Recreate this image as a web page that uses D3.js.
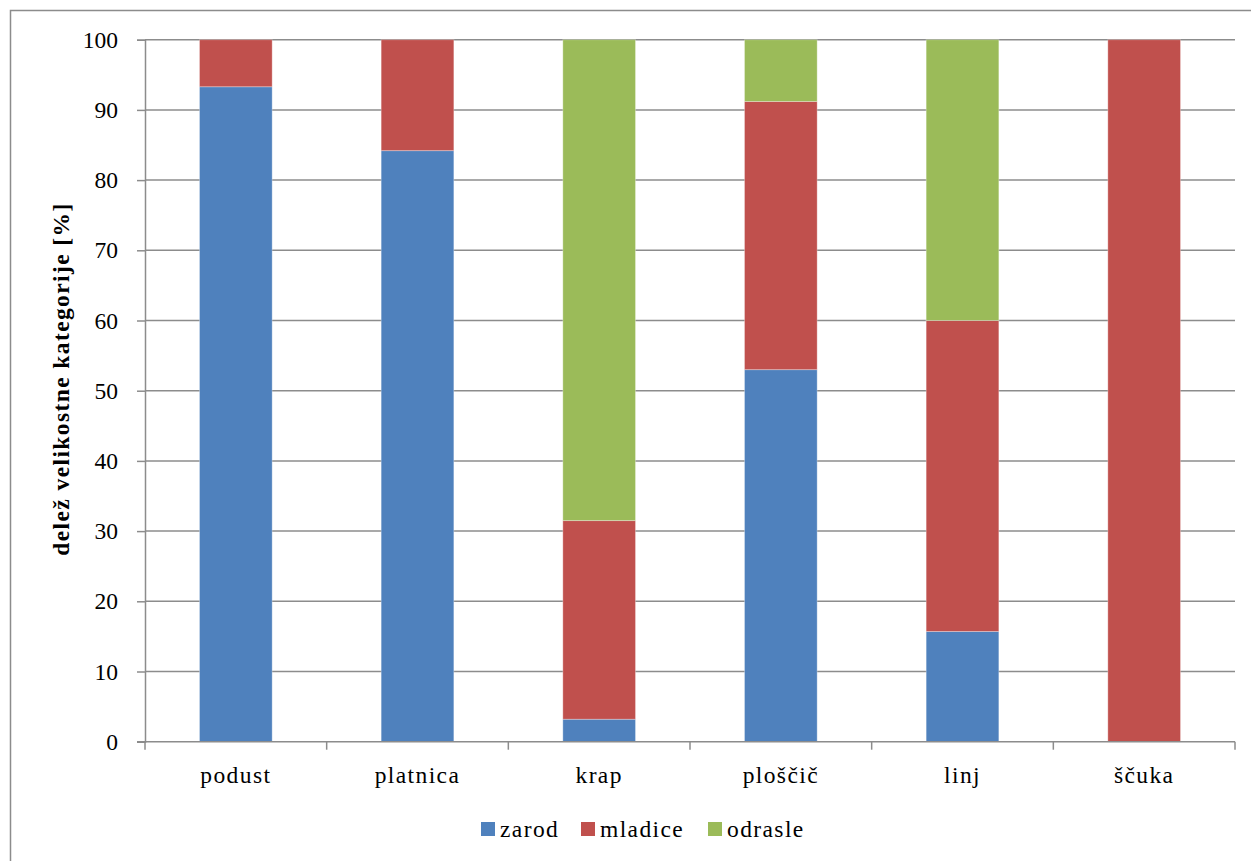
<!DOCTYPE html>
<html>
<head>
<meta charset="utf-8">
<script src="https://cdn.jsdelivr.net/npm/d3@7"></script>
<style>
  html, body { margin: 0; padding: 0; background: #fff; }
  svg { display: block; }
  text { font-family: "Liberation Serif", "Times New Roman", serif; fill: #000; }
</style>
</head>
<body>
<svg id="chart" width="1251" height="861"></svg>
<script>
// Fish species and share of each size class (%)
const categories = ["podust", "platnica", "krap", "ploščič", "linj", "ščuka"];
const seriesNames = ["zarod", "mladice", "odrasle"];
const zarod   = [93.3, 84.2, 3.2, 53.0, 15.7, 0];
const mladice = [6.7, 15.8, 28.3, 38.2, 44.3, 100];
const odrasle = [0, 0, 68.5, 8.8, 40.0, 0];
const yTicks = [0, 10, 20, 30, 40, 50, 60, 70, 80, 90, 100];
const colors = ["#4F81BD", "#C0504D", "#9BBB59"];

const svg = d3.select("#chart");
const W = 1251, H = 861;
const FONT = "'Liberation Serif', 'Times New Roman', serif";
const WORD_SPACING = "1.4px";

// outer chart frame
svg.append("rect")
  .attr("x", 10.5).attr("y", 10.5)
  .attr("width", W + 10).attr("height", H + 10)
  .attr("fill", "none").attr("stroke", "#8c8c8c").attr("stroke-width", 1.5);

const plot = { left: 145, right: 1235, top: 39.7, bottom: 741.7 };

const x = d3.scaleBand()
  .domain(categories)
  .range([plot.left, plot.right])
  .paddingInner(0.6).paddingOuter(0.3);

const y = d3.scaleLinear().domain([0, 100]).range([plot.bottom, plot.top]);

// horizontal gridlines
svg.append("g").selectAll("line")
  .data(yTicks.filter(d => d > 0))
  .join("line")
  .attr("x1", plot.left).attr("x2", plot.right)
  .attr("y1", d => y(d)).attr("y2", d => y(d))
  .attr("stroke", "#8c8c8c").attr("stroke-width", 1.5);

// stacked bars
const rows = categories.map((c, i) => ({ cat: c, zarod: zarod[i], mladice: mladice[i], odrasle: odrasle[i] }));
const stacked = d3.stack().keys(seriesNames)(rows);

svg.append("g").selectAll("g")
  .data(stacked)
  .join("g")
  .attr("fill", (d, i) => colors[i])
  .selectAll("rect")
  .data(d => d.filter(s => s[1] - s[0] > 0))
  .join("rect")
  .attr("x", d => x(d.data.cat))
  .attr("width", x.bandwidth())
  .attr("y", d => y(d[1]))
  .attr("height", d => y(d[0]) - y(d[1]))
  .attr("stroke", "rgba(255,255,255,0.3)")
  .attr("stroke-width", 1);

// y axis
const yAxis = d3.axisLeft(y).tickValues(yTicks).tickSize(8).tickPadding(19);
const gy = svg.append("g").attr("transform", `translate(${plot.left},0)`).call(yAxis);
gy.attr("font-family", null).attr("font-size", null);
gy.select(".domain").attr("stroke", "#8c8c8c").attr("stroke-width", 1.5);
gy.selectAll(".tick line").attr("stroke", "#8c8c8c").attr("stroke-width", 1.5);
gy.selectAll(".tick text")
  .style("font-family", FONT)
  .style("font-size", "23.5px").attr("fill", "#000");

// x axis with separators between categories
const gx = svg.append("g").attr("transform", `translate(0,${plot.bottom})`);
gx.append("line")
  .attr("x1", plot.left - 8).attr("x2", plot.right)
  .attr("stroke", "#8c8c8c").attr("stroke-width", 1.5);
const boundaries = d3.range(categories.length + 1).map(i => plot.left + i * (plot.right - plot.left) / categories.length);
gx.selectAll("line.sep")
  .data(boundaries)
  .join("line").attr("class", "sep")
  .attr("x1", d => d).attr("x2", d => d)
  .attr("y1", 0).attr("y2", 8)
  .attr("stroke", "#8c8c8c").attr("stroke-width", 1.5);
gx.selectAll("text")
  .data(categories)
  .join("text")
  .attr("x", d => x(d) + x.bandwidth() / 2)
  .attr("y", 41.6)
  .attr("text-anchor", "middle")
  .style("font-size", "23.5px")
  .style("letter-spacing", WORD_SPACING)
  .text(d => d);

// y axis title
svg.append("text")
  .attr("transform", `translate(69,379) rotate(-90)`)
  .attr("text-anchor", "middle")
  .style("font-size", "23.5px")
  .style("font-weight", "bold")
  .style("letter-spacing", WORD_SPACING)
  .text("delež velikostne kategorije [%]");

// legend
const legendItems = [
  { name: "zarod", x: 481 },
  { name: "mladice", x: 581 },
  { name: "odrasle", x: 708 }
];
const lg = svg.append("g");
lg.selectAll("rect")
  .data(legendItems)
  .join("rect")
  .attr("x", d => d.x).attr("y", 822)
  .attr("width", 14).attr("height", 14)
  .attr("fill", (d, i) => colors[i]);
lg.selectAll("text")
  .data(legendItems)
  .join("text")
  .attr("x", d => d.x + 19).attr("y", 837)
  .style("font-size", "23.5px")
  .style("letter-spacing", WORD_SPACING)
  .text(d => d.name);
</script>
</body>
</html>
